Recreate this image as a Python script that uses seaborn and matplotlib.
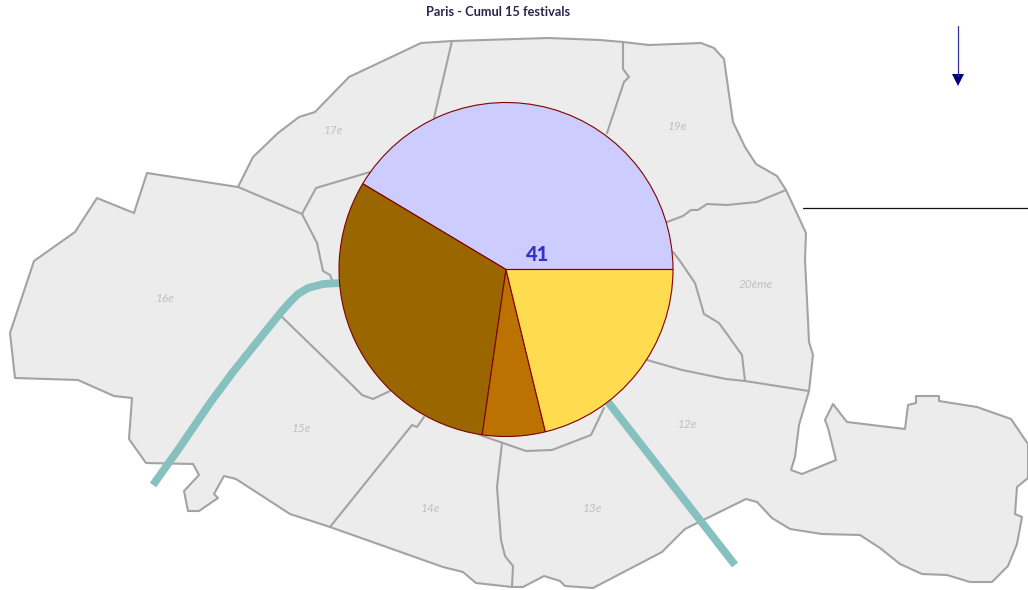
import pandas as pd
import matplotlib.pyplot as plt
import seaborn as sns

sns.set_theme(style="white")
plt.rcParams['font.family'] = ['Lato', 'DejaVu Sans']

# le camembert
titre = "Paris - Cumul 15 festivals"
valeurs = [41, 31, 6, 21]
couleurs = ["#CCCCFF", "#996600", "#BC7200", "#FFDB4F"]

# fond de carte, lu en pixels sur l'image
contour = [(238, 187), (147, 173), (134, 213), (97, 198), (75, 232), (34, 261), (10, 333), (15, 378),
           (78, 380), (114, 396), (132, 398), (129, 439), (146, 463), (193, 464), (199, 475), (184, 491),
           (188, 511), (199, 511), (218, 498), (214, 494), (224, 476), (236, 479), (290, 514), (330, 527),
           (443, 567), (463, 572), (476, 583), (512, 587), (523, 587), (544, 576), (560, 581), (565, 586),
           (593, 588), (662, 552), (685, 529), (746, 499), (757, 502), (772, 518), (790, 529), (822, 534),
           (860, 535), (880, 548), (900, 564), (922, 574), (947, 575), (970, 582), (992, 582), (1008, 566),
           (1017, 544), (1022, 517), (1015, 514), (1017, 487), (1028, 478), (1028, 444), (1011, 419), (977, 407),
           (939, 401), (939, 396), (916, 396), (916, 403), (908, 405), (905, 429), (847, 422), (833, 404),
           (825, 420), (828, 428), (836, 460), (802, 474), (791, 470), (795, 457), (799, 425), (809, 391),
           (813, 355), (809, 342), (808, 320), (805, 260), (806, 233), (786, 190), (777, 176), (756, 164),
           (745, 147), (733, 122), (724, 59), (714, 48), (701, 43), (649, 45), (623, 42), (600, 40),
           (548, 38), (452, 41), (421, 43), (349, 77), (315, 112), (299, 117), (278, 133), (253, 157), (238, 187)]
limites = [
    [(452, 41), (434, 118)],
    [(623, 42), (623, 69), (629, 77), (624, 82), (607, 133)],
    [(786, 190), (757, 202), (727, 205), (707, 204), (698, 210), (691, 210), (683, 216), (667, 222)],
    [(673, 252), (680, 261), (695, 283), (704, 314), (719, 323), (742, 355), (745, 381)],
    [(809, 391), (745, 381), (726, 379), (682, 370), (647, 360)],
    [(238, 187), (302, 214), (316, 188), (370, 172)],
    [(302, 214), (317, 243), (323, 271), (330, 275), (332, 280)],
    [(282, 317), (347, 380), (362, 395), (373, 399), (390, 391)],
    [(330, 527), (412, 425), (417, 427), (424, 417)],
    [(502, 443), (497, 487), (501, 540), (505, 556), (513, 566), (512, 587)],
    [(480, 435), (526, 451), (552, 450), (591, 435), (604, 408)],
]
seine = [
    [(153, 485), (180, 447), (210, 403), (233, 372), (257, 342), (282, 311), (290, 302), (298, 294),
     (308, 288), (323, 284), (340, 283)],
    [(608, 402), (735, 565)],
]
noms = ["17e", "19e", "20ème", "16e", "15e", "14e", "13e", "12e"]
noms_x = [333, 677, 756, 165, 301, 430, 592, 687]
noms_y = [131, 126, 284, 299, 428, 509, 508, 425]


def en_table(traits):
    lignes = []
    for i, trait in enumerate([contour] + traits if traits is limites else traits):
        for x, y in trait:
            lignes.append({"trait": i, "x": x, "y": y})
    return pd.DataFrame(lignes)


fig = plt.figure(figsize=(10.28, 5.9), dpi=100)
carte = fig.add_axes([0, 0, 1, 1])

carte.fill([p[0] for p in contour], [p[1] for p in contour], color="#ECECEC", lw=0)
sns.lineplot(data=en_table(limites), x="x", y="y", units="trait", estimator=None, sort=False,
             color="#A3A3A3", lw=1.5, ax=carte)
sns.lineplot(data=en_table(seine), x="x", y="y", units="trait", estimator=None, sort=False,
             color="#87C1BF", lw=5.6, solid_capstyle="butt", ax=carte)

for nom, x, y in zip(noms, noms_x, noms_y):
    carte.text(x, y, nom, color="#BFBFBF", fontsize=8.5, style="italic", ha="center", va="center")

carte.text(498, 12.5, titre, color="#262650", fontsize=9.2, fontweight="bold", ha="center", va="center")

# la fleche et le trait a droite
carte.plot([803, 1028], [207.5, 207.5], color="#111111", lw=0.9)
carte.plot([958, 958], [26, 76], color="#3333A0", lw=0.9)
carte.fill([952, 964, 958], [74, 74, 86], color="#000080", lw=0)

carte.set_xlim(0, 1028)
carte.set_ylim(590, 0)
carte.axis("off")

# le camembert par dessus
rond = fig.add_axes([339 / 1028, 1 - 436.5 / 590, 334 / 1028, 334 / 590])
rond.pie(valeurs, colors=couleurs, startangle=0, radius=1,
         wedgeprops={"edgecolor": "#800000", "linewidth": 0.8})
rond.set_xlim(-1, 1)
rond.set_ylim(-1, 1)
rond.text(0.19, 0.087, str(valeurs[0]), color="#3333CC", fontsize=14.5, fontweight="black", ha="center", va="center")

fig.savefig("out.png", dpi=100)
